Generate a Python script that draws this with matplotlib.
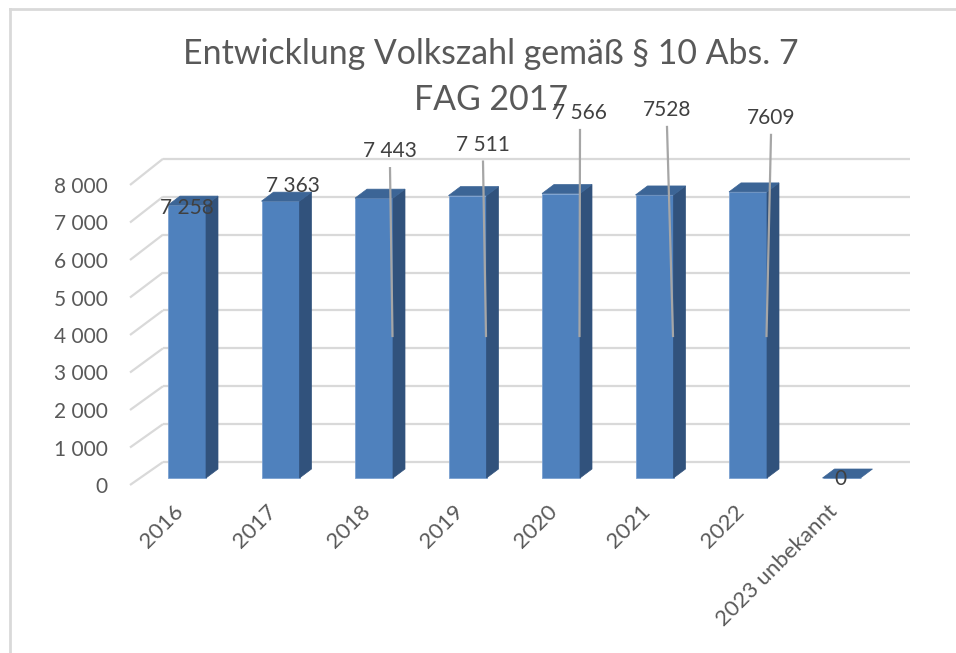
import matplotlib
matplotlib.use("Agg")
import matplotlib.pyplot as plt
from matplotlib.patches import Polygon

# ---------------- data ----------------
categories = ["2016", "2017", "2018", "2019", "2020", "2021", "2022", "2023 unbekannt"]
values = [7258, 7363, 7443, 7511, 7566, 7528, 7609, 0]
value_labels = ["7 258", "7 363", "7 443", "7 511", "7 566", "7528", "7609", "0"]
yticks = [0, 1000, 2000, 3000, 4000, 5000, 6000, 7000, 8000]
ytick_labels = ["0", "1 000", "2 000", "3 000", "4 000", "5 000", "6 000", "7 000", "8 000"]
title = "Entwicklung Volkszahl gemäß § 10 Abs. 7\nFAG 2017"

# ---------------- layout constants (pixels) ----------------
W, H, DPI = 956, 653, 100
X0_PX = 187.0        # centre of first category
CAT_PX = 93.5        # category spacing
Y0_PX = 478.0        # front baseline (from top)
VAL_PX = 0.0376      # px per value unit (front plane)
BAR_W_PX = 38.0
DEPTH_DX, DEPTH_DY = 12.0, 9.0     # bar depth
WALL_DX, WALL_DY = 33.0, 23.0      # left-wall floor diagonal

# label offsets (dx px, dy px (negative = up)) relative to bar top centre, leader flag
label_pos = [(0, 3, False), (12, -15, False), (16, -47, True), (15.5, -51, True),
             (19, -80.5, True), (12.5, -85, True), (23, -74, True), (-1.5, 1, False)]

font = ["Lato", "DejaVu Sans"]
plt.rcParams["font.family"] = font

fig = plt.figure(figsize=(W / DPI, H / DPI), dpi=DPI)
fig.patch.set_facecolor("white")

ax = fig.add_axes([0, 0, 1, 1])
ax.set_xlim((0 - X0_PX) / CAT_PX, (W - X0_PX) / CAT_PX)
ax.set_ylim((Y0_PX - H) / VAL_PX, (Y0_PX - 0) / VAL_PX)
ax.axis("off")

def dx(px):
    return px / CAT_PX

def dy(px):
    return px / VAL_PX

def px_x(px):
    return (px - X0_PX) / CAT_PX

def px_y(py):
    return (Y0_PX - py) / VAL_PX

grid_c = "#d9d9d9"
# back wall gridlines and left-floor diagonals
wall_left = px_x(130) + dx(WALL_DX)
wall_right = px_x(910)
for v, lab in zip(yticks, ytick_labels):
    y_front = px_y(485) + v * 0.0375 / VAL_PX
    y_back = y_front + dy(WALL_DY) + v * 0.0004 / VAL_PX
    ax.plot([px_x(130), wall_left], [y_front, y_back], color=grid_c, lw=1.6, zorder=1,
            solid_capstyle="butt")
    ax.plot([wall_left, wall_right], [y_back, y_back], color=grid_c, lw=1.6, zorder=1,
            solid_capstyle="butt")
    ax.text(px_x(108), y_front - dy(2), lab, ha="right", va="center", fontsize=15,
            color="#595959", zorder=5)

front_c = "#4f81bd"
side_c = "#31527c"
top_c = "#3c6596"
bw = dx(BAR_W_PX)
ddx, ddy = dx(DEPTH_DX), dy(DEPTH_DY)
xs = list(range(len(categories)))

ax.bar(xs, values, width=bw, color=front_c, edgecolor="#7aa0d0", linewidth=0.6, zorder=3)
for i, v in zip(xs, values):
    r = i + bw / 2
    l = i - bw / 2
    if v > 0:
        ax.add_patch(Polygon([(r, 0), (r + ddx, ddy), (r + ddx, v + ddy), (r, v)],
                             closed=True, facecolor=side_c, edgecolor=side_c, lw=0.5, zorder=3))
    ax.add_patch(Polygon([(l, v), (r, v), (r + ddx, v + ddy), (l + ddx, v + ddy)],
                         closed=True, facecolor=top_c, edgecolor=top_c, lw=0.5, zorder=3))

# data labels with leader lines
for i, v, lab, (ox, oy, leader) in zip(xs, values, value_labels, label_pos):
    ty = v - dy(oy)
    tx = i + dx(ox)
    ax.text(tx, ty, lab, ha="center", va="center", fontsize=15, color="#404040", zorder=6)
    if leader:
        ax.plot([tx, i + dx(18.5)], [ty - dy(17), px_y(336)], color="#a6a6a6",
                lw=1.6, zorder=5)

# category labels
for i, c in zip(xs, categories):
    ax.text(i + dx(-7), px_y(508), c, rotation=45, ha="right", va="center",
            rotation_mode="anchor", fontsize=16, color="#595959", zorder=5)

# title
ax.text(px_x(491), px_y(77), title, ha="center", va="center", fontsize=24.4,
        color="#595959", linespacing=1.55, zorder=5)

# outer chart border (left and top visible)
ax.plot([px_x(10), px_x(10)], [px_y(9), px_y(H + 5)], color=grid_c, lw=2, zorder=7,
        clip_on=False)
ax.plot([px_x(10), px_x(W + 5)], [px_y(9), px_y(9)], color=grid_c, lw=2, zorder=7,
        clip_on=False)

fig.savefig("out.png", dpi=DPI, facecolor="white")
